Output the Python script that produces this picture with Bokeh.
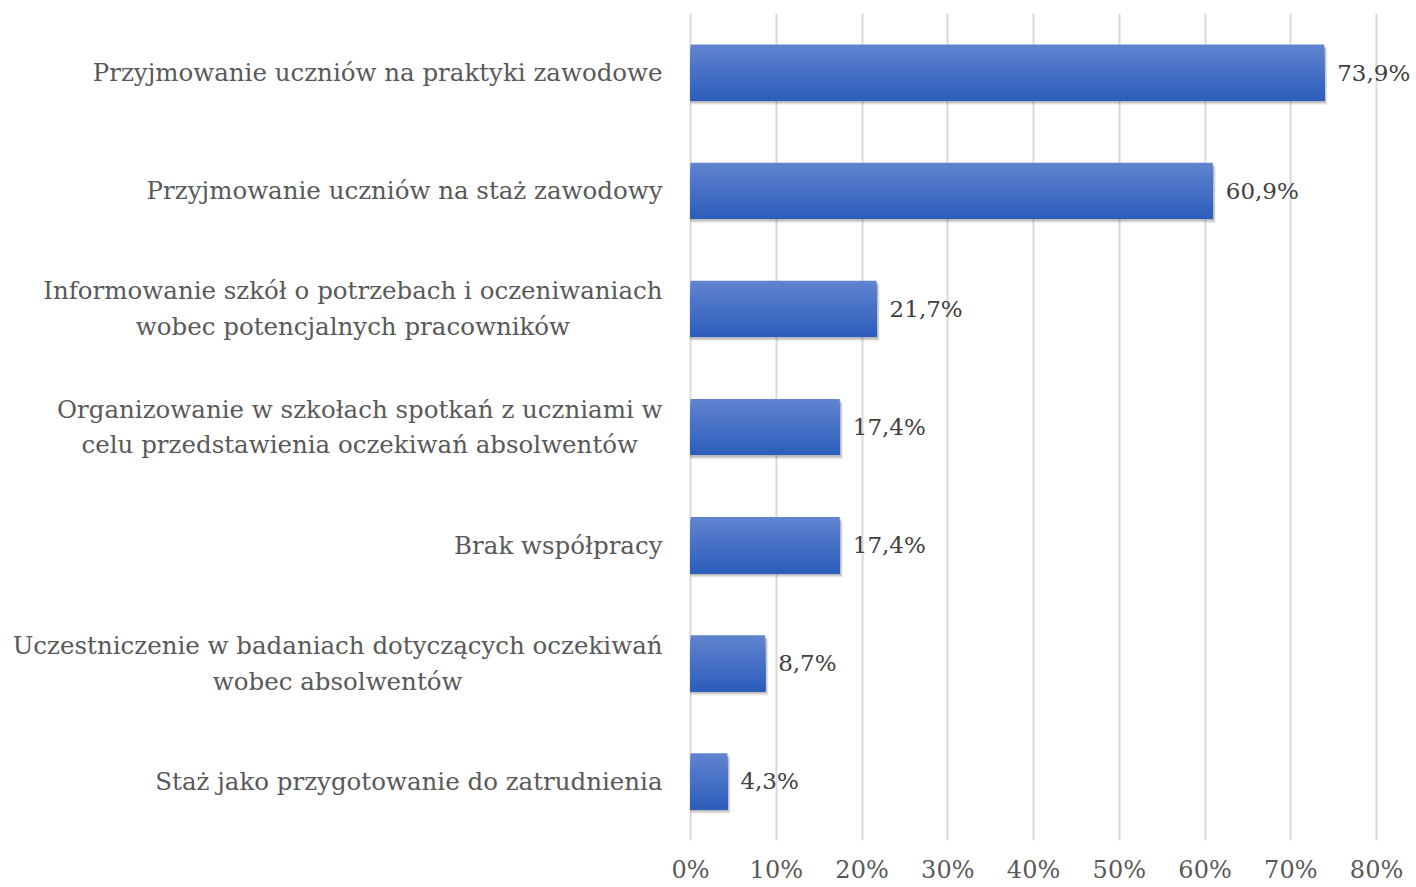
from bokeh.plotting import figure
from bokeh.models import FactorRange, Range1d, FixedTicker, PrintfTickFormatter, ColumnDataSource
from bokeh.transform import dodge
from bokeh.core.properties import value
from bokeh.embed import file_html
from bokeh.resources import INLINE

categories = [
    "Przyjmowanie uczniów na praktyki zawodowe",
    "Przyjmowanie uczniów na staż zawodowy",
    "Informowanie szkół o potrzebach i oczeniwaniach\nwobec potencjalnych pracowników",
    "Organizowanie w szkołach spotkań z uczniami w\ncelu przedstawienia oczekiwań absolwentów",
    "Brak współpracy",
    "Uczestniczenie w badaniach dotyczących oczekiwań\nwobec absolwentów",
    "Staż jako przygotowanie do zatrudnienia",
]
values = [73.9, 60.9, 21.7, 17.4, 17.4, 8.7, 4.3]
x_ticks = [0, 10, 20, 30, 40, 50, 60, 70, 80]

labels = [f"{v:.1f}".replace(".", ",") + "%" for v in values]
src = ColumnDataSource(dict(cat=categories, val=values, lab=labels, zero=[0] * len(values)))

FONT = "DejaVu Serif"

p = figure(
    width=1410, height=887,
    y_range=FactorRange(factors=categories[::-1], range_padding=0),
    x_range=Range1d(-80.47, 83.96),
    output_backend="svg", toolbar_location=None,
    min_border_left=0, min_border_right=0, min_border_top=13, min_border_bottom=47,
)
p.outline_line_color = None
p.background_fill_color = "white"
p.border_fill_color = "white"
p.yaxis.visible = False
p.ygrid.grid_line_color = None
p.xgrid.ticker = FixedTicker(ticks=x_ticks)
p.xgrid.grid_line_color = "#d9d9d9"
p.xgrid.grid_line_width = 2
p.xaxis.ticker = FixedTicker(ticks=x_ticks)
p.xaxis.formatter = PrintfTickFormatter(format="%d%%")
p.xaxis.axis_line_color = None
p.xaxis.major_tick_line_color = None
p.xaxis.minor_tick_line_color = None
p.xaxis.major_label_text_font = FONT
p.xaxis.major_label_text_font_size = "24px"
p.xaxis.major_label_text_color = "#595959"
p.xaxis.major_label_standoff = 9

H = 0.475
# shadow layers
for dy, dx, a in [(-0.035, 0.35, 0.10), (-0.025, 0.25, 0.14), (-0.015, 0.15, 0.18)]:
    p.hbar(y=dodge("cat", dy, range=p.y_range), left="zero", right=dodge("val", dx), height=H,
           source=src, fill_color="#404040", fill_alpha=a, line_color=None)

# gradient: layers sharing the bar bottom, lightest (full height) first
top = (0x60, 0x84, 0xd0)
bot = (0x2c, 0x5d, 0xbb)
n = 20
for i in range(n):
    frac = (n - i) / n
    t = (n - i - 0.5) / n
    c = tuple(int(round(bot[j] + (top[j] - bot[j]) * t)) for j in range(3))
    col = "#%02x%02x%02x" % c
    h = H * frac
    p.hbar(y=dodge("cat", -H / 2 + h / 2, range=p.y_range), left="zero", right="val", height=h,
           source=src, fill_color=col, line_color=None)

# value labels
p.text(x="val", y="cat", text="lab", source=src, x_offset=13,
       text_align="left", text_baseline="middle",
       text_font=value(FONT), text_font_size="23px", text_color="#404040")

# category labels
p.text(x="zero", y="cat", text="cat", source=src, x_offset=-28,
       anchor="center_right", text_align="center", text_baseline="middle",
       text_line_height=1.24,
       text_font=value(FONT), text_font_size="24.5px", text_color="#595959")

open("out.html", "w").write(file_html(p, INLINE))
